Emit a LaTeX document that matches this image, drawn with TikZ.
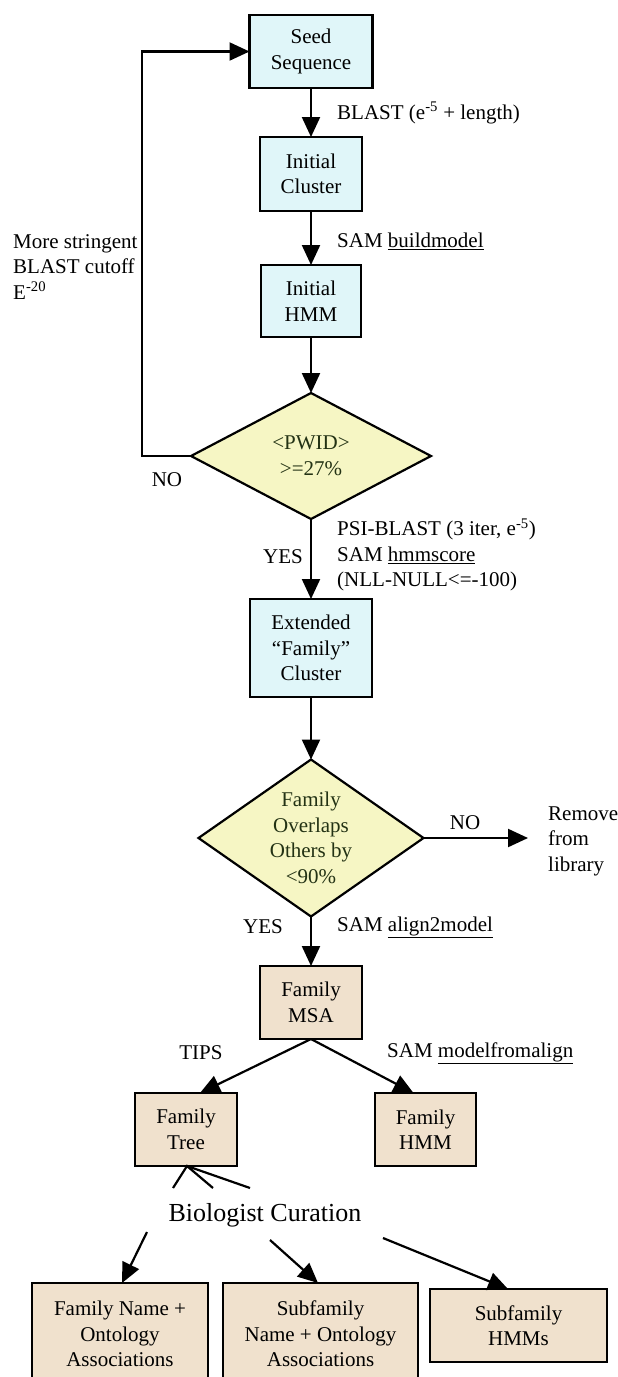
\documentclass[tikz,border=0pt]{standalone}
\usepackage{fontspec}
\setmainfont{Liberation Serif}
\usetikzlibrary{arrows.meta,shapes.geometric}
\definecolor{cyanfill}{RGB}{224,246,249}
\definecolor{yelfill}{RGB}{246,246,196}
\definecolor{tanfill}{RGB}{240,225,205}
\definecolor{dtext}{RGB}{35,50,20}
\begin{document}
\begin{tikzpicture}[x=1pt,y=-1pt,
 base/.style={font=\fontsize{21}{25.5}\selectfont},
 box/.style={base, draw=black, line width=2.4pt, align=center, inner sep=0pt, outer sep=0pt},
 cbox/.style={box, fill=cyanfill},
 tbox/.style={box, fill=tanfill},
 dia/.style={base, diamond, draw=black, line width=2.2pt, fill=yelfill, align=center, inner sep=0pt, outer sep=0pt, text=dtext},
 lbl/.style={base, inner sep=0pt},
 arr/.style={line width=2.2pt, -{Triangle[length=20pt,width=18pt]}},
 ln/.style={line width=2.2pt}]
\path[use as bounding box, fill=white] (0,0) rectangle (618,1377);
\clip (0,0) rectangle (618,1377);

% nodes
\node[cbox, minimum width=123pt, minimum height=73pt] (seed) at (311,51.5) {Seed\\Sequence};
\node[cbox, minimum width=102pt, minimum height=74pt] (ic) at (311,174) {Initial\\Cluster};
\node[cbox, minimum width=100pt, minimum height=72pt] (ih) at (311,301) {Initial\\HMM};
\node[dia, minimum width=240pt, minimum height=126pt, aspect=1.9] (d1) at (311,456) {<PWID>\\>=27\%};
\node[cbox, minimum width=122pt, minimum height=98pt] (ext) at (311,648) {Extended\\``Family''\\Cluster};
\node[dia, minimum width=225pt, minimum height=157pt, aspect=1.43] (d2) at (311,838) {Family\\Overlaps\\Others by\\<90\%};
\node[lbl, anchor=west, align=left] (rm) at (548,841) {Remove\\from\\library};
\node[tbox, minimum width=102pt, minimum height=73pt] (msa) at (311,1002.5) {Family\\MSA};
\node[tbox, minimum width=102pt, minimum height=73pt] (tree) at (186,1129.5) {Family\\Tree};
\node[tbox, minimum width=101pt, minimum height=73pt] (fh) at (425.5,1129.5) {Family\\HMM};
\node[lbl, font=\fontsize{26}{30}\selectfont] (bio) at (265,1215) {Biologist Curation};
\node[tbox, minimum width=176pt, minimum height=102pt] (b1) at (120,1334) {Family Name +\\Ontology\\Associations};
\node[tbox, minimum width=195pt, minimum height=102pt] (b2) at (320.5,1334) {Subfamily\\Name + Ontology\\Associations};
\node[tbox, minimum width=177pt, minimum height=73pt] (b3) at (518.5,1325.5) {Subfamily\\HMMs};

% labels
\node[lbl, anchor=west] (l1) at (337,113) {BLAST (e\textsuperscript{-5} + length)};
\node[lbl, anchor=west] (l2) at (337,241) {SAM \underline{buildmodel}};
\node[lbl, anchor=west, align=left] (l3) at (13,267) {More stringent\\BLAST cutoff\\E\textsuperscript{-20}};
\node[lbl] (no1) at (167,480) {NO};
\node[lbl] (yes1) at (283,557) {YES};
\node[lbl, anchor=west, align=left] (l4) at (337,555) {PSI-BLAST (3 iter, e\textsuperscript{-5})\\SAM \underline{hmmscore}\\(NLL-NULL<=-100)};
\node[lbl] (no2) at (465,823) {NO};
\node[lbl] (yes2) at (263,927) {YES};
\node[lbl, anchor=west] (l5) at (337,927) {SAM \underline{align2model}};
\node[lbl] (tips) at (201,1053) {TIPS};
\node[lbl, anchor=west] (l6) at (387,1053) {SAM \underline{modelfromalign}};

% connectors
\draw[arr] (seed) -- (ic);
\draw[arr] (ic) -- (ih);
\draw[arr] (ih) -- (d1);
\draw[arr] (d1.west) -- ++(-49,0) |- (seed.west);
\draw[arr] (d1) -- (ext);
\draw[arr] (ext) -- (d2);
\draw[arr] (d2.east) -- ([xshift=-20pt]d2.east -| rm.west);
\draw[arr] (d2) -- (msa);
\draw[arr] (msa.south) -- ([xshift=14pt]tree.north);
\draw[arr] (msa.south) -- ([xshift=-12pt]fh.north);

\coordinate (tc) at ([xshift=1pt]tree.south);
\coordinate (t1) at (173,1188);
\coordinate (t2) at (213,1188);
\coordinate (t3) at (250,1188);
\draw[ln] (t1) -- (tc) -- (t2);
\draw[ln] (tc) -- (t3);

\coordinate (c1) at (147,1232);
\coordinate (c2) at (270,1240);
\coordinate (c3) at (383,1238);
\draw[arr] (c1) -- ([xshift=2pt]b1.north);
\draw[arr] (c2) -- ([xshift=-2.5pt]b2.north);
\draw[arr] (c3) -- ([xshift=-10.5pt]b3.north);
\end{tikzpicture}
\end{document}
